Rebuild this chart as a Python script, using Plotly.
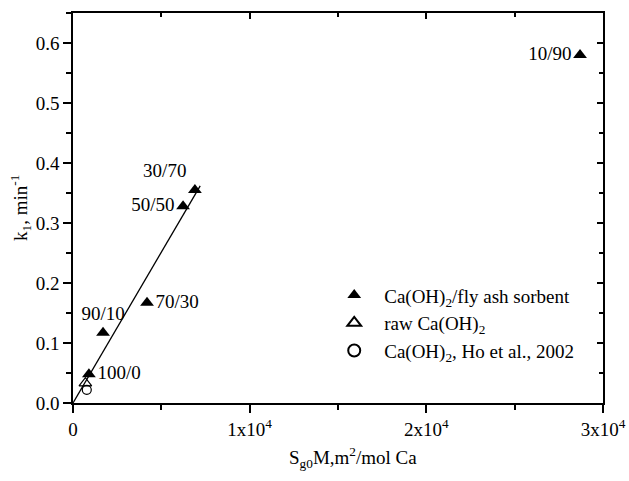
import plotly.graph_objects as go

# Data
sorbent_labels = ["10/90", "30/70", "50/50", "70/30", "90/10", "100/0"]
sorbent_x = [28700, 6900, 6230, 4190, 1700, 900]
sorbent_y = [0.58, 0.355, 0.328, 0.167, 0.117, 0.048]
label_pos = ["middle left", "top left", "middle left", "middle right", "top center", "middle right"]

raw_x = [700]
raw_y = [0.033]

ho_x = [780]
ho_y = [0.022]

fit_x = [0, 7200]
fit_y = [0, 0.362]

x_tickvals = [0, 10000, 20000, 30000]
x_ticktext = ["0", "1x10<sup>4</sup>", "2x10<sup>4</sup>", "3x10<sup>4</sup>"]
y_tickvals = [0.0, 0.1, 0.2, 0.3, 0.4, 0.5, 0.6]

FONT = "Liberation Serif"
X_RANGE = [0, 30000]
Y_RANGE = [0, 0.65]

fig = go.Figure()

fig.add_trace(go.Scatter(x=fit_x, y=fit_y, mode="lines",
                         line=dict(color="black", width=1.3), showlegend=False,
                         hoverinfo="skip"))

fig.add_trace(go.Scatter(x=sorbent_x, y=sorbent_y, mode="markers+text",
                         text=sorbent_labels, textposition=label_pos,
                         textfont=dict(family=FONT, size=19, color="black"),
                         cliponaxis=False,
                         marker=dict(symbol="triangle-up", size=12, color="black"),
                         name="Ca(OH)<sub>2</sub>/fly ash sorbent"))

fig.add_trace(go.Scatter(x=raw_x, y=raw_y, mode="markers",
                         marker=dict(symbol="triangle-up-open", size=11, color="black",
                                     line=dict(width=1.2)),
                         name="raw Ca(OH)<sub>2</sub>"))

fig.add_trace(go.Scatter(x=ho_x, y=ho_y, mode="markers",
                         marker=dict(symbol="circle-open", size=9, color="black",
                                     line=dict(width=1.2)),
                         name="Ca(OH)<sub>2</sub>, Ho et al., 2002"))

# invisible trace for mirrored (inward-tick) axes
fig.add_trace(go.Scatter(x=[0], y=[0], xaxis="x2", yaxis="y2", mode="markers",
                         marker=dict(opacity=0), showlegend=False, hoverinfo="skip"))

axis_common = dict(showline=True, linecolor="black", linewidth=1.5, showgrid=False,
                   zeroline=False, tickcolor="black", tickwidth=1.5, automargin=False,
                   mirror=True)

fig.update_layout(
    width=629, height=481,
    paper_bgcolor="white", plot_bgcolor="white",
    margin=dict(l=73, r=26, t=13, b=78),
    font=dict(family=FONT, size=19, color="black"),
    xaxis=dict(range=X_RANGE, tickvals=x_tickvals, ticktext=x_ticktext,
               ticks="outside", ticklen=8,
               minor=dict(dtick=5000, tick0=0, ticks="outside", ticklen=5,
                          tickcolor="black", tickwidth=1.5),
               tickfont=dict(size=19), **axis_common),
    yaxis=dict(range=Y_RANGE, tickvals=y_tickvals, tickformat=".1f",
               ticks="outside", ticklen=8,
               minor=dict(dtick=0.05, tick0=0, ticks="outside", ticklen=5,
                          tickcolor="black", tickwidth=1.5),
               tickfont=dict(size=19), **axis_common),
    xaxis2=dict(overlaying="x", side="top", anchor="y2", range=X_RANGE,
                tickvals=x_tickvals, ticks="inside", ticklen=6, showticklabels=False,
                minor=dict(dtick=5000, tick0=0, ticks="inside", ticklen=4,
                           tickcolor="black", tickwidth=1.5),
                **axis_common),
    yaxis2=dict(overlaying="y", side="right", anchor="x2", range=Y_RANGE,
                tickvals=y_tickvals, ticks="inside", ticklen=6, showticklabels=False,
                minor=dict(dtick=0.05, tick0=0, ticks="inside", ticklen=4,
                           tickcolor="black", tickwidth=1.5),
                **axis_common),
    legend=dict(x=0.474, y=0.325, xanchor="left", yanchor="top",
                bgcolor="rgba(0,0,0,0)", font=dict(size=19),
                itemsizing="constant", itemwidth=50, tracegroupgap=0),
    showlegend=True,
    annotations=[
        dict(text="S<sub>g0</sub>M,m<sup>2</sup>/mol Ca", xref="paper", yref="paper",
             x=0.529, y=-0.14, xanchor="center", yanchor="middle", showarrow=False,
             font=dict(size=19)),
        dict(text="k<sub>1</sub>, min<sup>-1</sup>", xref="paper", yref="paper",
             x=-0.1, y=0.5, xanchor="center", yanchor="middle", showarrow=False,
             textangle=-90, font=dict(size=19)),
    ],
)

fig.write_html("out.html", config={"displayModeBar": False},
               post_script="document.body.style.margin='0';")
